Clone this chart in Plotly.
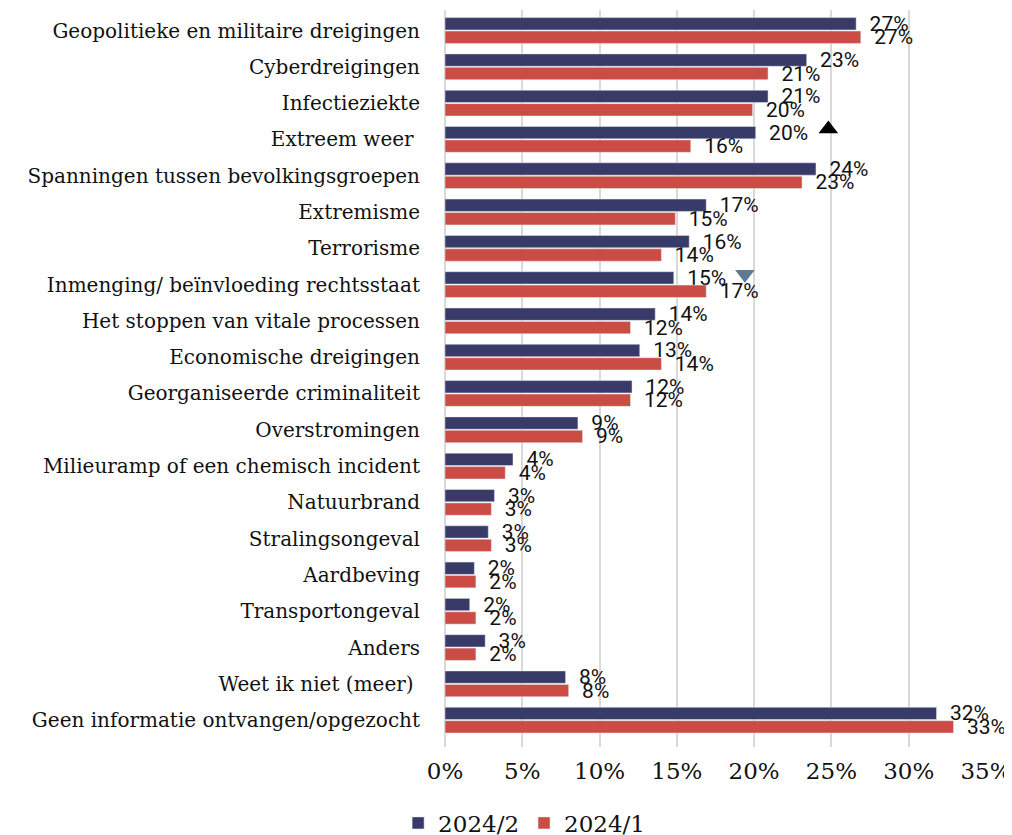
import numpy as np
import plotly.graph_objects as go

categories = [
    "Geopolitieke en militaire dreigingen",
    "Cyberdreigingen",
    "Infectieziekte",
    "Extreem weer ",
    "Spanningen tussen bevolkingsgroepen",
    "Extremisme",
    "Terrorisme",
    "Inmenging/ beïnvloeding rechtsstaat",
    "Het stoppen van vitale processen",
    "Economische dreigingen",
    "Georganiseerde criminaliteit",
    "Overstromingen",
    "Milieuramp of een chemisch incident",
    "Natuurbrand",
    "Stralingsongeval",
    "Aardbeving",
    "Transportongeval",
    "Anders",
    "Weet ik niet (meer) ",
    "Geen informatie ontvangen/opgezocht",
]
wave_2024_2 = [26.6, 23.4, 20.9, 20.1, 24.0, 16.9, 15.8, 14.8, 13.6, 12.6,
               12.1, 8.6, 4.4, 3.2, 2.8, 1.9, 1.6, 2.6, 7.8, 31.8]
wave_2024_1 = [26.9, 20.9, 19.9, 15.9, 23.1, 14.9, 14.0, 16.9, 12.0, 14.0,
               12.0, 8.9, 3.9, 3.0, 3.0, 2.0, 2.0, 2.0, 8.0, 32.9]

# significance markers (category, position on x axis, direction)
sig_categories = ["Extreem weer ", "Inmenging/ beïnvloeding rechtsstaat"]
sig_x = [24.8, 19.4]
sig_symbols = ["triangle-up", "triangle-down"]
sig_colors = ["#000000", "#5e7b90"]

tick_vals = [0, 5, 10, 15, 20, 25, 30, 35]
tick_text = ["0%", "5%", "10%", "15%", "20%", "25%", "30%", "35%"]

NAVY = "#383b68"
RED = "#cb4c44"
GRID = "#d9d9d9"

pos = np.arange(len(categories))
bargap = 0.26
bar_half = (1 - bargap) / 4  # centre offset of each bar inside its group

fig = go.Figure()
for name, vals, color in [("2024/2", wave_2024_2, NAVY), ("2024/1", wave_2024_1, RED)]:
    fig.add_trace(go.Bar(
        y=pos, x=vals, name=name, orientation="h",
        marker=dict(color=color),
        texttemplate="\u00a0\u00a0%{x:.0f}%", textposition="outside",
        constraintext="none", cliponaxis=False,
        textfont=dict(family="Roboto", size=21, color="#111111"),
        hoverinfo="skip",
    ))

sig_pos = [categories.index(c) - bar_half - 0.1 for c in sig_categories]
fig.add_trace(go.Scatter(
    x=sig_x, y=sig_pos, mode="markers", showlegend=False, cliponaxis=False,
    marker=dict(symbol=sig_symbols, color=sig_colors, size=17),
    hoverinfo="skip",
))

# the page body adds an 8px margin, so the layout is shifted up/left by 8px
fig.update_layout(
    width=1012, height=835,
    barmode="group", bargap=bargap, bargroupgap=0.08,
    plot_bgcolor="white", paper_bgcolor="white",
    margin=dict(l=437, r=34, t=2, b=96, autoexpand=False),
    legend=dict(
        orientation="h", xref="container", yref="container",
        x=0.51, y=0.024, xanchor="center", yanchor="middle",
        font=dict(family="DejaVu Serif", size=23, color="#111111"),
        traceorder="normal", itemwidth=30,
    ),
)
fig.update_xaxes(
    range=[0, 35], tickvals=tick_vals, ticktext=tick_text, automargin=False,
    showgrid=True, gridcolor=GRID, gridwidth=2,
    zeroline=True, zerolinecolor=GRID, zerolinewidth=2,
    ticks="outside", ticklen=3, tickcolor="rgba(0,0,0,0)",
    tickfont=dict(family="DejaVu Serif", size=23, color="#111111"),
)
fig.update_yaxes(
    range=[19.74, -0.565], tickvals=pos, ticktext=categories, automargin=False,
    showgrid=False, zeroline=False, ticks="outside", ticklen=20,
    tickcolor="rgba(0,0,0,0)",
    tickfont=dict(family="DejaVu Serif", size=20, color="#111111"),
)

fig.write_html("out.html")
